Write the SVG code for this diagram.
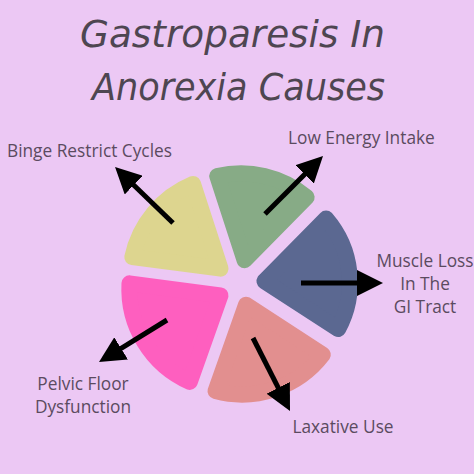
<svg xmlns="http://www.w3.org/2000/svg" width="474" height="474" viewBox="0 0 474 474">
<defs>
<style>
.title{font-family:"DejaVu Sans","Liberation Sans",sans-serif;font-style:italic;font-size:38px;fill:#4e4651;}
.lbl{font-family:"Open Sans","Noto Sans",sans-serif;font-size:17.3px;fill:#5b4b60;}
.w{stroke-width:16;stroke-linejoin:round;}
.arr{stroke:#000;stroke-width:5;fill:none;marker-end:url(#ah);}
</style>
<marker id="ah" viewBox="0 0 10 10" refX="2" refY="5" markerWidth="26" markerHeight="26" markerUnits="userSpaceOnUse" orient="auto">
<path d="M0,0 L10,5 L0,10 Z" fill="#000"/>
</marker>
</defs>
<rect width="474" height="474" fill="#ecc8f4"/>
<g id="title">
<text class="title" x="80" y="47" textLength="305" lengthAdjust="spacingAndGlyphs">Gastroparesis In</text>
<text class="title" x="92" y="100" textLength="293" lengthAdjust="spacingAndGlyphs">Anorexia Causes</text>
</g>
<g id="wedge-blue" transform="translate(239,284) rotate(-6.25) translate(13,0)">
<path class="w" fill="#5b6891" stroke="#5b6891" d="M12.64,0 L80.69,-55.60 A98,98 0 0,1 80.69,55.60 Z"/>
</g>
<g id="wedge-salmon" transform="translate(239,284) rotate(71.25) translate(9,0)">
<path class="w" fill="#e28f8f" stroke="#e28f8f" d="M12.92,0 L84.81,-56.67 A102,102 0 0,1 84.81,56.67 Z"/>
</g>
<g id="wedge-pink" transform="translate(239,284) rotate(148.5) translate(9,0)">
<path class="w" fill="#fe5fbf" stroke="#fe5fbf" d="M12.71,0 L84.06,-57.78 A102,102 0 0,1 84.06,57.78 Z"/>
</g>
<g id="wedge-yellow" transform="translate(239,284) rotate(219.75) translate(9,0)">
<path class="w" fill="#ddd58f" stroke="#ddd58f" d="M14.99,0 L90.27,-47.50 A102,102 0 0,1 90.27,47.50 Z"/>
</g>
<g id="wedge-green" transform="translate(239,284) rotate(283.25) translate(9,0)">
<path class="w" fill="#87ab86" stroke="#87ab86" d="M15.42,0 L91.09,-45.92 A102,102 0 0,1 91.09,45.92 Z"/>
</g>
<g id="connectors">
<line class="arr" x1="173" y1="223" x2="130" y2="181.5"/>
<line class="arr" x1="265" y1="214" x2="308.3" y2="170.7"/>
<line class="arr" x1="301" y1="283" x2="362.2" y2="283"/>
<line class="arr" x1="167" y1="320" x2="116.7" y2="351.1"/>
<line class="arr" x1="253" y1="338" x2="280.6" y2="392.4"/>
</g>
<g id="label-binge"><text class="lbl" x="7" y="157">Binge Restrict Cycles</text></g>
<g id="label-low"><text class="lbl" x="288" y="144">Low Energy Intake</text></g>
<g id="label-muscle">
<text class="lbl" x="425" y="267" text-anchor="middle">Muscle Loss</text>
<text class="lbl" x="425" y="290" text-anchor="middle">In The</text>
<text class="lbl" x="425" y="313" text-anchor="middle">GI Tract</text>
</g>
<g id="label-pelvic">
<text class="lbl" x="83" y="390" text-anchor="middle">Pelvic Floor</text>
<text class="lbl" x="83" y="413" text-anchor="middle">Dysfunction</text>
</g>
<g id="label-laxative"><text class="lbl" x="343" y="433" text-anchor="middle">Laxative Use</text></g>
</svg>
